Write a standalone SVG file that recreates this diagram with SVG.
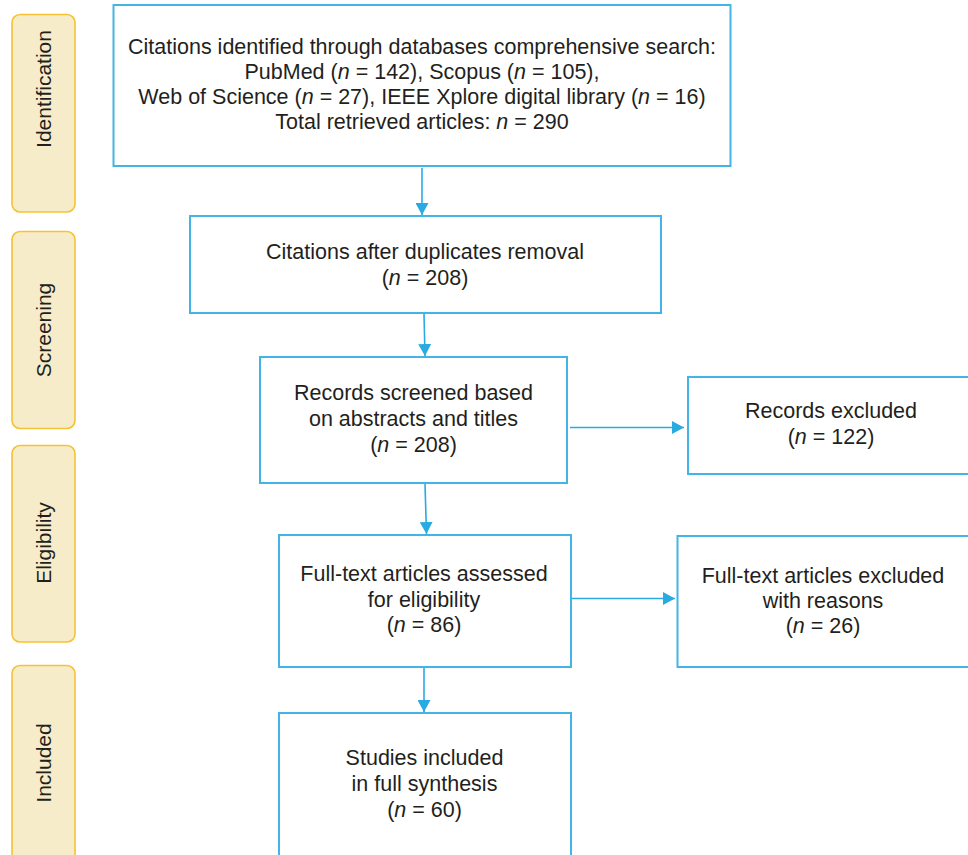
<svg xmlns="http://www.w3.org/2000/svg" width="968" height="855" viewBox="0 0 968 855">
<style>
.stage{fill:#f7ecc9;stroke:#f6c233;stroke-width:1.6}
.box{fill:#ffffff;stroke:#42b4e6;stroke-width:2}
.t{font-family:"Liberation Sans",Arial,sans-serif;font-size:21.5px;fill:#231f20;text-anchor:middle}
.s{font-size:21px}
.conn{stroke:#29abe2;stroke-width:1.6;fill:none}
</style>
<defs>
<marker id="ah" markerUnits="userSpaceOnUse" markerWidth="13" markerHeight="13" viewBox="0 0 13 13" refX="12" refY="6.5" orient="auto">
<path d="M0,0 L12,6.5 L0,13 Z" fill="#29abe2"/>
</marker>
</defs>
<rect width="968" height="855" fill="#ffffff"/>

<g id="stage-identification">
<rect class="stage" x="12" y="14.5" width="63" height="197.5" rx="8"/>
<text class="t s" transform="translate(50.5,89) rotate(-90)">Identification</text>
</g>
<g id="stage-screening">
<rect class="stage" x="12" y="231.5" width="63" height="197" rx="8"/>
<text class="t s" transform="translate(50.5,330) rotate(-90)">Screening</text>
</g>
<g id="stage-eligibility">
<rect class="stage" x="12" y="445.5" width="63" height="196.5" rx="8"/>
<text class="t s" transform="translate(50.5,543) rotate(-90)">Eligibility</text>
</g>
<g id="stage-included">
<rect class="stage" x="12" y="665.5" width="63" height="200" rx="8"/>
<text class="t s" transform="translate(50.5,763) rotate(-90)">Included</text>
</g>

<g id="connectors">
<line class="conn" x1="422" y1="168" x2="422" y2="215" marker-end="url(#ah)"/>
<line class="conn" x1="424" y1="314" x2="425" y2="356" marker-end="url(#ah)"/>
<line class="conn" x1="570" y1="427.5" x2="684" y2="427.5" marker-end="url(#ah)"/>
<line class="conn" x1="425" y1="484" x2="426.5" y2="534" marker-end="url(#ah)"/>
<line class="conn" x1="566" y1="598.5" x2="675" y2="598.5" marker-end="url(#ah)"/>
<line class="conn" x1="424" y1="668" x2="424" y2="712" marker-end="url(#ah)"/>
</g>

<g id="node-identified">
<rect class="box" x="113.5" y="5" width="617" height="161"/>
<text class="t" x="422" y="53.5">Citations identified through databases comprehensive search:</text>
<text class="t" x="422" y="78.5">PubMed (<tspan font-style="italic">n</tspan> = 142), Scopus (<tspan font-style="italic">n</tspan> = 105),</text>
<text class="t" x="422" y="103.5">Web of Science (<tspan font-style="italic">n</tspan> = 27), IEEE Xplore digital library (<tspan font-style="italic">n</tspan> = 16)</text>
<text class="t" x="422" y="128.5">Total retrieved articles: <tspan font-style="italic">n</tspan> = 290</text>
</g>

<g id="node-duplicates">
<rect class="box" x="190" y="216" width="471" height="97"/>
<text class="t" x="425" y="258.5">Citations after duplicates removal</text>
<text class="t" x="425" y="284.5">(<tspan font-style="italic">n</tspan> = 208)</text>
</g>

<g id="node-screened">
<rect class="box" x="260" y="357" width="307" height="126"/>
<text class="t" x="413.5" y="399.5">Records screened based</text>
<text class="t" x="413.5" y="425.5">on abstracts and titles</text>
<text class="t" x="413.5" y="451.5">(<tspan font-style="italic">n</tspan> = 208)</text>
</g>

<g id="node-records-excluded">
<rect class="box" x="688" y="377" width="300" height="97"/>
<text class="t" x="831" y="417.5">Records excluded</text>
<text class="t" x="831" y="443.5">(<tspan font-style="italic">n</tspan> = 122)</text>
</g>

<g id="node-fulltext">
<rect class="box" x="279" y="535" width="292" height="132"/>
<text class="t" x="424" y="580.5">Full-text articles assessed</text>
<text class="t" x="424" y="606.5">for eligibility</text>
<text class="t" x="424" y="632">(<tspan font-style="italic">n</tspan> = 86)</text>
</g>

<g id="node-fulltext-excluded">
<rect class="box" x="677.5" y="536" width="310" height="131"/>
<text class="t" x="823" y="582.5">Full-text articles excluded</text>
<text class="t" x="823" y="607.5">with reasons</text>
<text class="t" x="823" y="632.5">(<tspan font-style="italic">n</tspan> = 26)</text>
</g>

<g id="node-included">
<rect class="box" x="279" y="713" width="292" height="160"/>
<text class="t" x="424.5" y="764.5">Studies included</text>
<text class="t" x="424.5" y="790.5">in full synthesis</text>
<text class="t" x="424.5" y="816.5">(<tspan font-style="italic">n</tspan> = 60)</text>
</g>
</svg>
